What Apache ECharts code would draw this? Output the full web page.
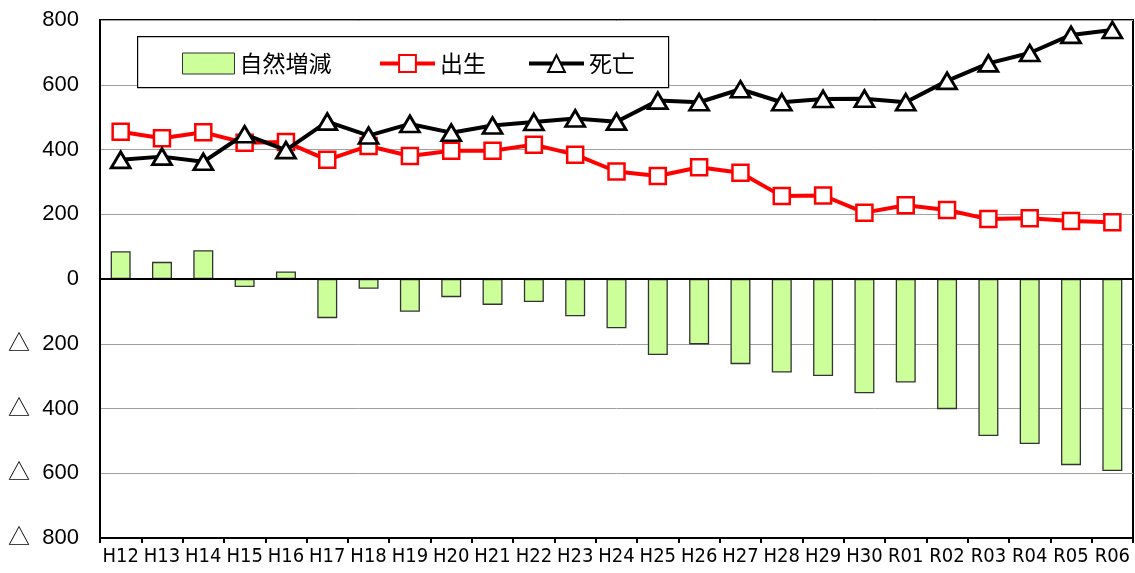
<!DOCTYPE html>
<html>
<head>
<meta charset="utf-8">
<script src="https://cdn.jsdelivr.net/npm/echarts@6/dist/echarts.min.js"></script>
<style>html,body{margin:0;padding:0;background:#fff;}#c{width:1135px;height:573px;}</style>
</head>
<body>
<div id="c"></div>
<script>
const categories = ['H12','H13','H14','H15','H16','H17','H18','H19','H20','H21','H22','H23','H24','H25','H26','H27','H28','H29','H30','R01','R02','R03','R04','R05','R06'];
const naturalChange = [86, 53, 89, -25, 23, -121, -30, -101, -56, -80, -71, -115, -152, -235, -202, -263, -289, -300, -353, -320, -402, -485, -510, -575, -593];
const births = [455, 435, 453, 421, 423, 368, 411, 380, 396, 396, 415, 384, 332, 318, 345, 328, 256, 258, 205, 228, 213, 185, 188, 179, 175];
const deaths = [368, 378, 362, 447, 398, 486, 443, 479, 452, 474, 485, 496, 486, 551, 546, 586, 546, 556, 557, 546, 612, 666, 698, 754, 769];
const yTicks = {min: -800, max: 800, interval: 200};

const chart = echarts.init(document.getElementById('c'), null, {renderer: 'canvas'});
const legendText = {fontSize: 23, color: '#000', fontFamily: 'Noto Sans CJK JP'};
chart.setOption({
  animation: false,
  backgroundColor: '#fff',
  grid: {left: 100, right: 2, top: 20, bottom: 35, show: true, borderColor: '#000', borderWidth: 2, backgroundColor: 'transparent'},
  graphic: [{
    type: 'rect', left: 137, top: 36, z: 50,
    shape: {width: 531, height: 51},
    style: {fill: '#fff', stroke: '#000', lineWidth: 1.2}
  }],
  legend: [
    {data: [{name: '自然増減', icon: 'rect'}], left: 182, top: 52, itemWidth: 52, itemHeight: 21, itemGap: 0, padding: 0, textStyle: legendText, z: 60,
     itemStyle: {borderColor: '#333', borderWidth: 1}},
    {data: ['出生'], left: 378, top: 52, itemWidth: 55, itemHeight: 21, padding: 0, textStyle: legendText, z: 60,
     lineStyle: {width: 4}},
    {data: ['死亡'], left: 527, top: 52, itemWidth: 55, itemHeight: 21, padding: 0, textStyle: legendText, z: 60,
     lineStyle: {width: 4}}
  ],
  xAxis: {
    type: 'category', data: categories, position: 'bottom',
    axisLine: {onZero: false, lineStyle: {color: '#000', width: 2}},
    axisTick: {show: true, length: 5, lineStyle: {color: '#000', width: 2}},
    axisLabel: {fontSize: 20, color: '#000', fontFamily: 'Liberation Sans Narrow, DejaVu Sans Condensed, Liberation Sans', margin: 9, interval: 0},
    splitLine: {show: false}
  },
  yAxis: {
    type: 'value', min: yTicks.min, max: yTicks.max, interval: yTicks.interval,
    axisLine: {show: true, lineStyle: {color: '#000', width: 2}},
    axisTick: {show: false},
    axisLabel: {
      fontSize: 22, color: '#000', fontFamily: 'Liberation Sans, Noto Sans CJK JP', margin: 21,
      formatter: v => v < 0 ? '△  ' + (-v) : String(v)
    },
    splitLine: {lineStyle: {color: '#a0a0a0', width: 1}}
  },
  series: [
    {
      name: '自然増減', type: 'bar', data: naturalChange, barWidth: 20, z: 2,
      itemStyle: {color: '#ccff99', borderColor: '#333', borderWidth: 1.3},
      markLine: {silent: true, symbol: 'none', label: {show: false}, lineStyle: {color: '#000', width: 2, type: 'solid'}, data: [{yAxis: 0}]}
    },
    {
      name: '出生', type: 'line', data: births, z: 3,
      symbol: 'rect', symbolSize: 16,
      lineStyle: {color: '#ff0000', width: 4},
      itemStyle: {color: '#fff', borderColor: '#ff0000', borderWidth: 2.5}
    },
    {
      name: '死亡', type: 'line', data: deaths, z: 4,
      symbol: 'triangle', symbolSize: [19, 16],
      lineStyle: {color: '#000', width: 4},
      itemStyle: {color: '#fff', borderColor: '#000', borderWidth: 2.8}
    }
  ]
});
</script>
</body>
</html>
